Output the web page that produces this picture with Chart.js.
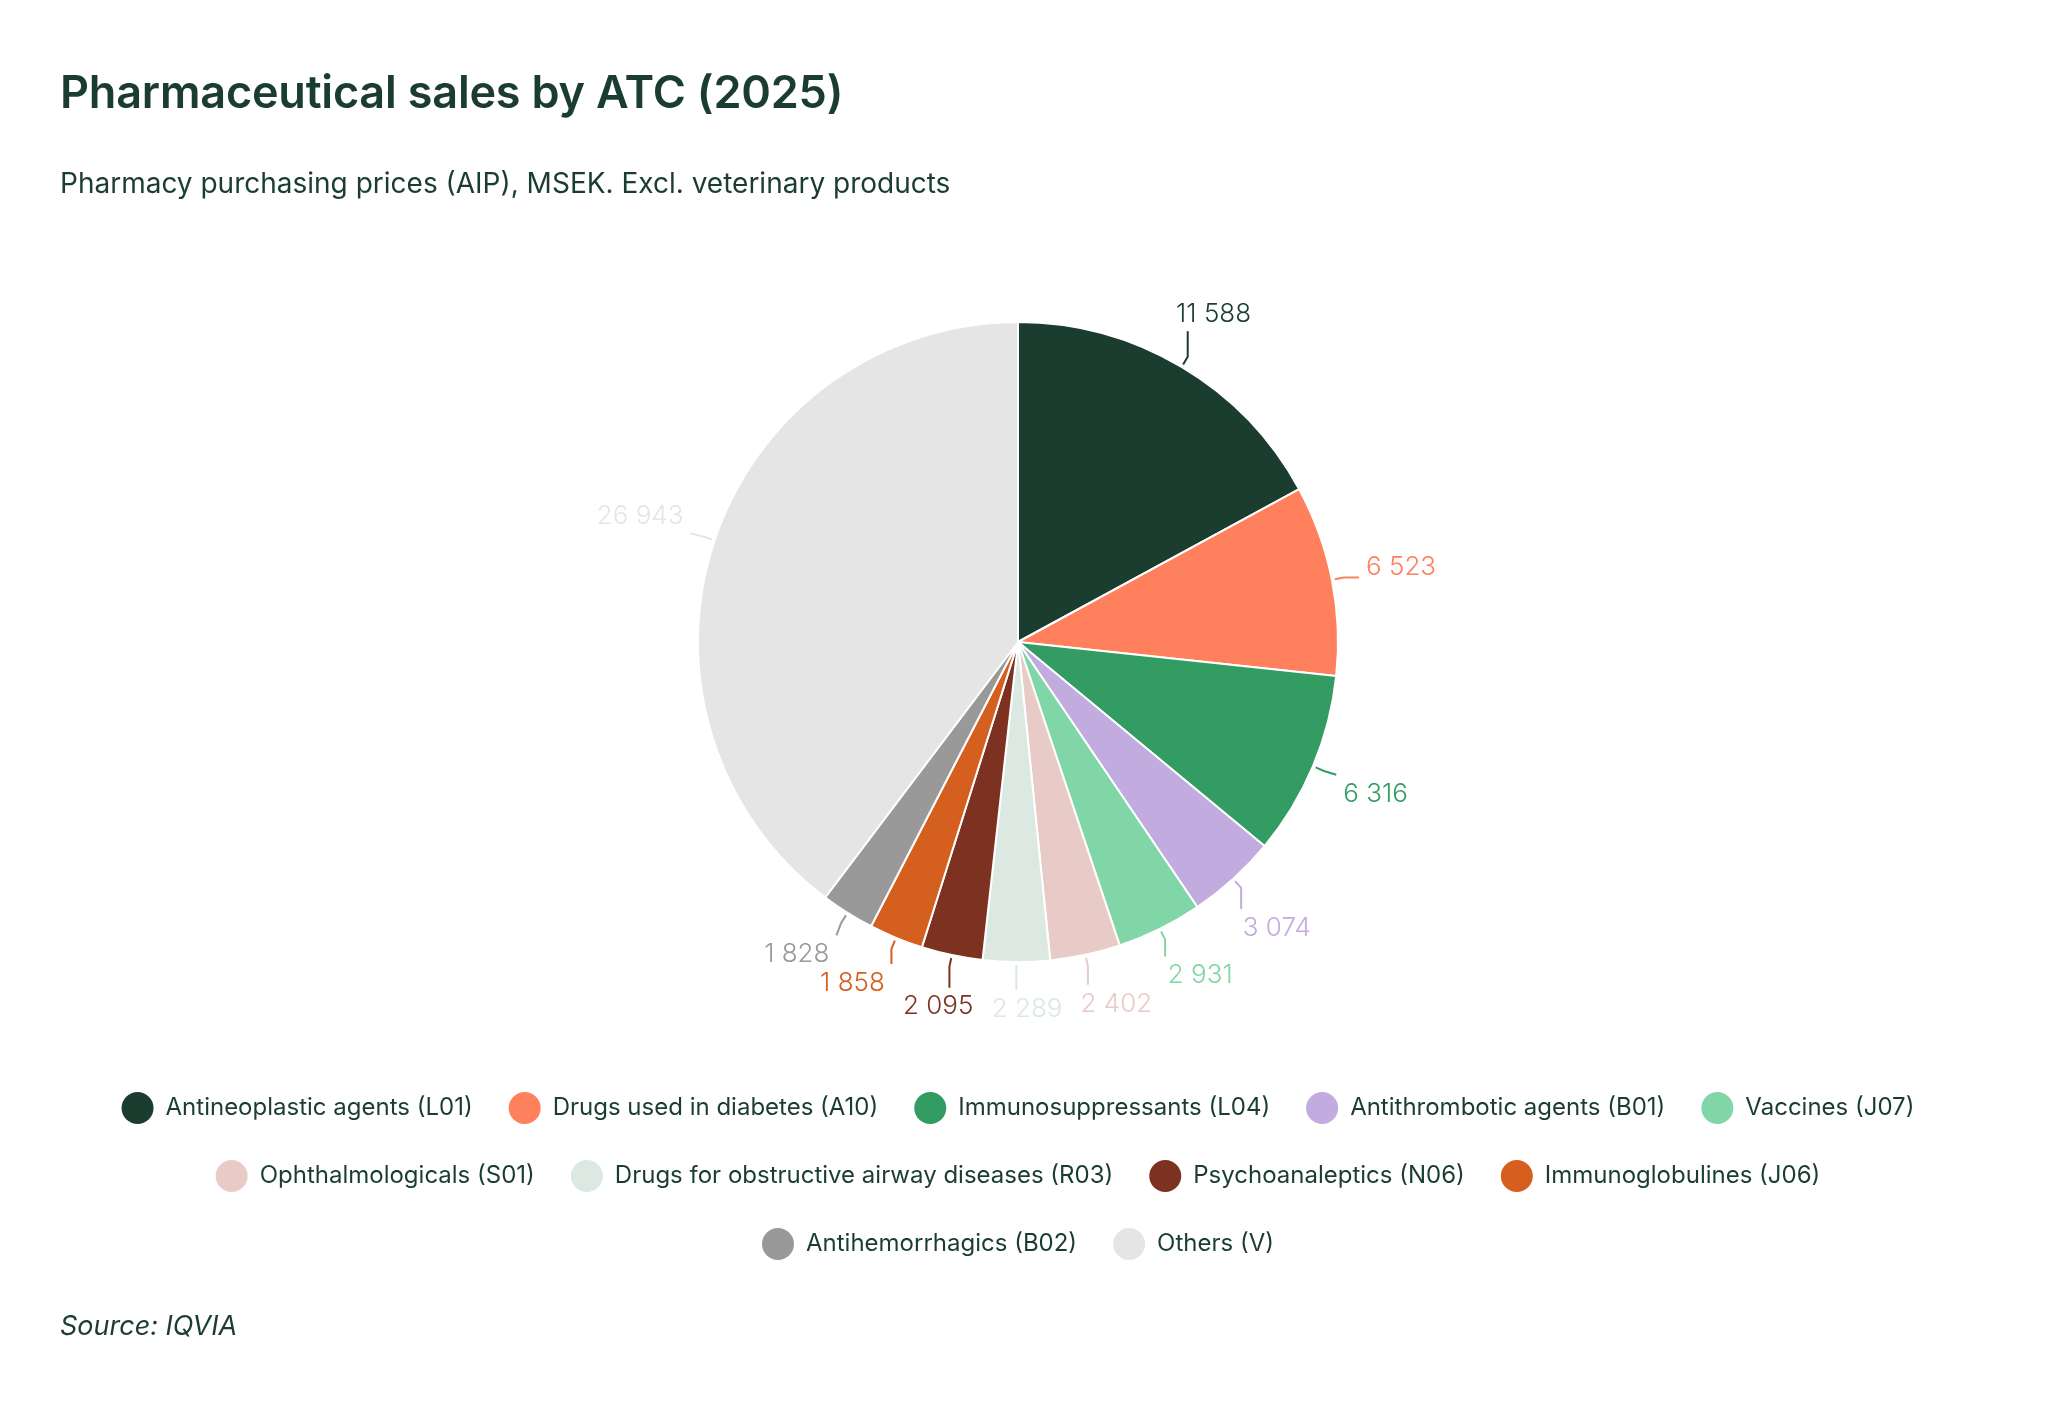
<!DOCTYPE html>
<html>
<head>
<meta charset="utf-8">
<title>Pharmaceutical sales by ATC (2025)</title>
<script src="https://cdn.jsdelivr.net/npm/chart.js@4.4.1/dist/chart.umd.min.js"></script>
<style>
  html, body { margin: 0; padding: 0; background: #fff; }
  body { width: 2048px; height: 1406px; position: relative; overflow: hidden; font-family: Inter, Roboto, sans-serif; color: #1a3d2f; }
  #chart { position: absolute; left: 0; top: 0; }
  .title { position: absolute; left: 60px; top: 69px; font-size: 45px; font-weight: 600; line-height: 1; letter-spacing: -0.2px; white-space: nowrap; }
  .subtitle { position: absolute; left: 60px; top: 169px; font-size: 28px; font-weight: 400; line-height: 1; white-space: nowrap; }
  .source { position: absolute; left: 60px; top: 1312px; font-size: 27px; font-style: italic; line-height: 1; white-space: nowrap; }
</style>
</head>
<body>
<canvas id="chart" width="2048" height="1406"></canvas>
<div class="title">Pharmaceutical sales by ATC (2025)</div>
<div class="subtitle">Pharmacy purchasing prices (AIP), MSEK. Excl. veterinary products</div>
<div class="source">Source: IQVIA</div>
<script>
// ATC groups, clockwise from 12 o'clock
var categories = [
    'Antineoplastic agents (L01)',
    'Drugs used in diabetes (A10)',
    'Immunosuppressants (L04)',
    'Antithrombotic agents (B01)',
    'Vaccines (J07)',
    'Ophthalmologicals (S01)',
    'Drugs for obstructive airway diseases (R03)',
    'Psychoanaleptics (N06)',
    'Immunoglobulines (J06)',
    'Antihemorrhagics (B02)',
    'Others (V)'
];
var sales = [11588, 6523, 6316, 3074, 2931, 2402, 2289, 2095, 1858, 1828, 26943];
var sliceColors = ['#1a3d2f', '#ff805c', '#339c62', '#c1abdf', '#80d6a7', '#e8cbc7',
                   '#dbe9e2', '#7d3120', '#d45f1e', '#999999', '#e5e5e5'];

var textColor = '#1a3d2f';

function fmt(v) {
    return String(v).replace(/\B(?=(\d{3})+(?!\d))/g, ' ');
}

// value labels outside the pie, pushed apart along the circle, with leader lines
var pieLabels = {
    id: 'pieLabels',
    afterDatasetsDraw: function (chart) {
        var ctx = chart.ctx;
        var meta = chart.getDatasetMeta(0);
        var gap = 34, hh = 11;
        ctx.save();
        ctx.font = '300 26px Inter';
        ctx.textBaseline = 'middle';
        ctx.textAlign = 'center';

        var items = meta.data.map(function (arc, i) {
            var p = arc.getProps(['x', 'y', 'startAngle', 'endAngle', 'outerRadius'], true);
            var mid = (p.startAngle + p.endAngle) / 2;
            var text = fmt(sales[i]);
            return {p: p, mid: mid, ang: mid, text: text, hw: ctx.measureText(text).width / 2};
        });

        function place(it) {
            var dx = Math.cos(it.ang), dy = Math.sin(it.ang);
            var d = it.p.outerRadius + gap + it.hw * Math.abs(dx) + hh * Math.abs(dy);
            it.cx = it.p.x + d * dx;
            it.cy = it.p.y + d * dy;
        }

        items.forEach(place);
        for (var iter = 0; iter < 500; iter++) {
            var moved = false;
            for (var i = 0; i < items.length - 1; i++) {
                var a = items[i], b = items[i + 1];
                if (Math.abs(a.cx - b.cx) < a.hw + b.hw + 18 && Math.abs(a.cy - b.cy) < 2 * hh + 6) {
                    a.ang -= 0.002;
                    b.ang += 0.002;
                    place(a);
                    place(b);
                    moved = true;
                }
            }
            if (!moved) break;
        }

        items.forEach(function (it, i) {
            var p = it.p;
            var dx = Math.cos(it.mid), dy = Math.sin(it.mid);
            var x0 = p.x + (p.outerRadius + 3) * dx, y0 = p.y + (p.outerRadius + 3) * dy;
            var x1 = p.x + (p.outerRadius + 12) * dx, y1 = p.y + (p.outerRadius + 12) * dy;
            var g = 7;
            var x2 = Math.min(Math.max(x1, it.cx - it.hw - g), it.cx + it.hw + g);
            var y2 = Math.min(Math.max(y1, it.cy - hh - g), it.cy + hh + g);

            ctx.strokeStyle = sliceColors[i];
            ctx.lineWidth = 2;
            ctx.beginPath();
            ctx.moveTo(x0, y0);
            ctx.lineTo(x1, y1);
            ctx.lineTo(x2, y2);
            ctx.stroke();

            ctx.fillStyle = sliceColors[i];
            ctx.fillText(it.text, it.cx, it.cy + 1);
        });
        ctx.restore();
    }
};

var chart = new Chart(document.getElementById('chart'), {
    type: 'pie',
    data: {
        labels: categories,
        datasets: [{
            data: sales,
            backgroundColor: sliceColors,
            borderColor: '#ffffff',
            borderWidth: 2,
            radius: 320
        }]
    },
    options: {
        responsive: false,
        animation: false,
        layout: {
            padding: {top: 228, bottom: 136, left: 43, right: 55}
        },
        plugins: {
            tooltip: {enabled: false},
            legend: {
                position: 'bottom',
                labels: {
                    color: textColor,
                    font: {family: 'Inter', size: 24},
                    boxWidth: 32,
                    boxHeight: 32,
                    padding: 36,
                    useBorderRadius: true,
                    borderRadius: 16,
                    generateLabels: function (chart) {
                        var items = Chart.overrides.doughnut.plugins.legend.labels.generateLabels(chart);
                        return items.map(function (it) {
                            it.lineWidth = 0;
                            it.borderRadius = 16;
                            it.fontColor = textColor;
                            return it;
                        });
                    }
                }
            }
        }
    },
    plugins: [pieLabels]
});
</script>
</body>
</html>
